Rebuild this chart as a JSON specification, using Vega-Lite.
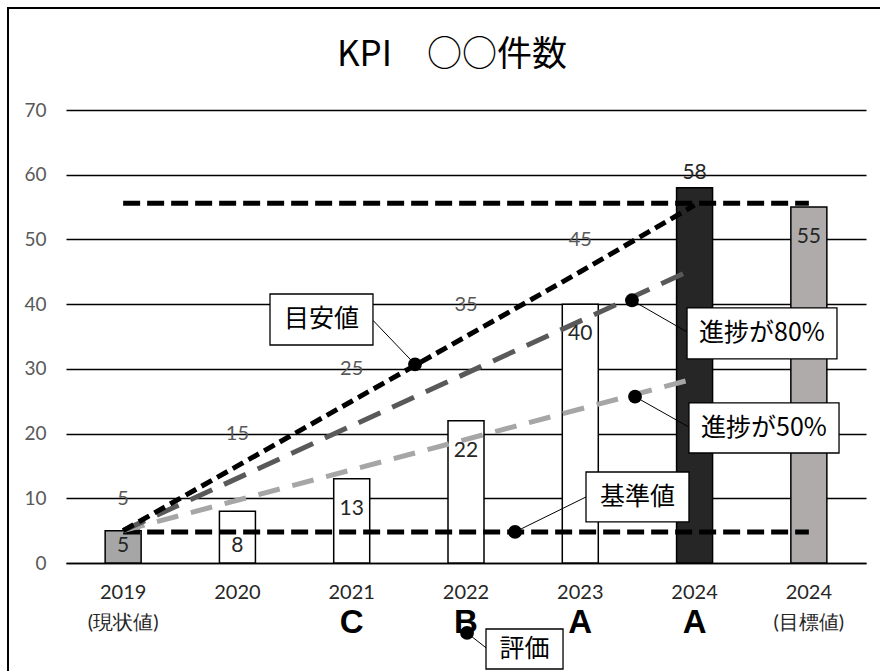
{
  "$schema": "https://vega.github.io/schema/vega-lite/v6.json",
  "width": 800,
  "height": 453,
  "autosize": "none",
  "padding": {"left": 66, "top": 110, "right": 14, "bottom": 108},
  "background": "white",
  "config": {
    "view": {"stroke": null},
    "axis": {"labelFont": "Lato", "labelFontSize": 20, "ticks": false, "title": null},
    "axisX": {"labelColor": "#262626", "labelFontSize": 20, "labelLineHeight": 30, "labelPadding": 19},
    "axisY": {"labelColor": "#595959", "labelFontSize": 19, "labelPadding": 20}
  },
  "title": {
    "text": "KPI　○○件数",
    "font": "Noto Sans CJK JP",
    "fontSize": 35,
    "fontWeight": "normal",
    "color": "black",
    "anchor": "middle",
    "frame": "group",
    "offset": 0,
    "dy": 66,
    "dx": -14
  },
  "datasets": {
    "bars": [
      {"cat": "2019|(現状値)", "value": 5},
      {"cat": "2020", "value": 8},
      {"cat": "2021", "value": 13, "eval": "C"},
      {"cat": "2022", "value": 22, "eval": "B"},
      {"cat": "2023", "value": 40, "eval": "A"},
      {"cat": "2024", "value": 58, "eval": "A"},
      {"cat": "2024|(目標値)", "value": 55}
    ],
    "guides": [
      {"series": "target", "cat": "2019|(現状値)", "value": 5},
      {"series": "target", "cat": "2020", "value": 15},
      {"series": "target", "cat": "2021", "value": 25},
      {"series": "target", "cat": "2022", "value": 35},
      {"series": "target", "cat": "2023", "value": 45},
      {"series": "target", "cat": "2024", "value": 55.3},
      {"series": "p80", "cat": "2019|(現状値)", "value": 5},
      {"series": "p80", "cat": "2024", "value": 45.5},
      {"series": "p50", "cat": "2019|(現状値)", "value": 5},
      {"series": "p50", "cat": "2024", "value": 28.5},
      {"series": "goal", "cat": "2019|(現状値)", "value": 55.6},
      {"series": "goal", "cat": "2024|(目標値)", "value": 55.6},
      {"series": "base", "cat": "2019|(現状値)", "value": 4.8},
      {"series": "base", "cat": "2024|(目標値)", "value": 4.8}
    ],
    "callouts": [
      {"label": "目安値", "x1": 1.785, "x2": 2.686, "y1": 41.57, "y2": 33.69, "tx": 2.236, "ty": 37.63, "px": 3.054, "py": 30.7, "lx": 2.686, "ly": 37.5},
      {"label": "進捗が80%", "x1": 5.434, "x2": 6.746, "y1": 39.41, "y2": 31.53, "tx": 6.09, "ty": 35.47, "px": 4.952, "py": 40.6, "lx": 5.434, "ly": 35.7},
      {"label": "進捗が50%", "x1": 5.451, "x2": 6.764, "y1": 24.73, "y2": 17.0, "tx": 6.107, "ty": 20.87, "px": 4.979, "py": 25.7, "lx": 5.451, "ly": 21.0},
      {"label": "基準値", "x1": 4.55, "x2": 5.451, "y1": 14.06, "y2": 6.34, "tx": 5.0, "ty": 10.2, "px": 3.929, "py": 4.8, "lx": 4.55, "ly": 10.2},
      {"label": "評価", "x1": 3.675, "x2": 4.349, "y1": -10.2, "y2": -16.38, "tx": 4.012, "ty": -13.29, "px": 3.509, "py": -10.8, "lx": 3.675, "ly": -13.1}
    ],
    "frame": [
      {"x1": -0.5075, "x2": 7.6, "y1": 85.77, "y2": -22}
    ]
  },
  "layer": [
    {
      "layer": [
        {
          "data": {"name": "bars"},
          "mark": {"type": "bar", "stroke": "black", "strokeWidth": 1.5},
          "encoding": {
            "x": {
              "field": "cat",
              "type": "nominal",
              "sort": null,
              "scale": {
                "domain": ["2019|(現状値)", "2020", "2021", "2022", "2023", "2024", "2024|(目標値)"],
                "paddingInner": 0.685,
                "paddingOuter": 0.3425
              },
              "axis": {
                "title": null,
                "labelAngle": 0,
                "labelExpr": "split(datum.label, '|')",
                "labelFont": "Lato",
                "labelFontSize": 20,
                "labelColor": "#262626",
                "labelLineHeight": 30,
                "labelPadding": 19,
                "ticks": false,
                "domain": true,
                "domainColor": "black",
                "domainWidth": 1.5,
                "grid": false
              }
            },
            "y": {
              "field": "value",
              "type": "quantitative",
              "scale": {"domain": [0, 70], "nice": false, "zero": true},
              "axis": {
                "title": null,
                "values": [0, 10, 20, 30, 40, 50, 60, 70],
                "labelFont": "Lato",
                "labelFontSize": 19,
                "labelColor": "#595959",
                "labelPadding": 20,
                "ticks": false,
                "domain": false,
                "grid": true,
                "gridColor": "black",
                "gridWidth": 1.4
              }
            },
            "fill": {
              "field": "cat",
              "type": "nominal",
              "scale": {
                "domain": ["2019|(現状値)", "2020", "2021", "2022", "2023", "2024", "2024|(目標値)"],
                "range": ["#a6a6a6", "#ffffff", "#ffffff", "#ffffff", "#ffffff", "#262626", "#afabab"]
              },
              "legend": null
            }
          }
        },
        {
          "data": {"name": "guides"},
          "transform": [{"filter": "datum.series === 'base'"}],
          "mark": {"type": "line", "color": "black", "strokeWidth": 5, "strokeDash": [17, 7]},
          "encoding": {
            "x": {"field": "cat", "type": "nominal", "sort": null},
            "y": {"field": "value", "type": "quantitative"}
          }
        },
        {
          "data": {"name": "guides"},
          "transform": [{"filter": "datum.series === 'goal'"}],
          "mark": {"type": "line", "color": "black", "strokeWidth": 5, "strokeDash": [17, 7]},
          "encoding": {
            "x": {"field": "cat", "type": "nominal", "sort": null},
            "y": {"field": "value", "type": "quantitative"}
          }
        },
        {
          "data": {"name": "guides"},
          "transform": [{"filter": "datum.series === 'p50'"}],
          "mark": {"type": "line", "color": "#a6a6a6", "strokeWidth": 5, "strokeDash": [22, 13]},
          "encoding": {
            "x": {"field": "cat", "type": "nominal", "sort": null},
            "y": {"field": "value", "type": "quantitative"}
          }
        },
        {
          "data": {"name": "guides"},
          "transform": [{"filter": "datum.series === 'p80'"}],
          "mark": {"type": "line", "color": "#595959", "strokeWidth": 5, "strokeDash": [24, 13]},
          "encoding": {
            "x": {"field": "cat", "type": "nominal", "sort": null},
            "y": {"field": "value", "type": "quantitative"}
          }
        },
        {
          "data": {"name": "guides"},
          "transform": [{"filter": "datum.series === 'target'"}],
          "mark": {"type": "line", "color": "black", "strokeWidth": 5, "strokeDash": [12, 6]},
          "encoding": {
            "x": {"field": "cat", "type": "nominal", "sort": null},
            "y": {"field": "value", "type": "quantitative"}
          }
        },
        {
          "data": {"name": "guides"},
          "transform": [{"filter": "datum.series === 'target' && datum.cat !== '2024'"}],
          "mark": {"type": "text", "font": "Lato", "fontSize": 20, "color": "#595959", "dy": -32, "baseline": "middle"},
          "encoding": {
            "x": {"field": "cat", "type": "nominal", "sort": null},
            "y": {"field": "value", "type": "quantitative"},
            "text": {"field": "value", "type": "quantitative"}
          }
        },
        {
          "data": {"name": "bars"},
          "transform": [{"filter": "datum.value < 10"}],
          "mark": {"type": "text", "font": "Lato", "fontSize": 21, "color": "#262626", "dy": -17, "baseline": "middle"},
          "encoding": {
            "x": {"field": "cat", "type": "nominal", "sort": null},
            "y": {"datum": 0},
            "text": {"field": "value", "type": "quantitative"}
          }
        },
        {
          "data": {"name": "bars"},
          "transform": [{"filter": "datum.value >= 10 && datum.cat !== '2024'"}],
          "mark": {"type": "text", "font": "Lato", "fontSize": 21, "color": "#262626", "dy": 30, "baseline": "middle"},
          "encoding": {
            "x": {"field": "cat", "type": "nominal", "sort": null},
            "y": {"field": "value", "type": "quantitative"},
            "text": {"field": "value", "type": "quantitative"}
          }
        },
        {
          "data": {"name": "bars"},
          "transform": [{"filter": "datum.cat === '2024'"}],
          "mark": {"type": "text", "font": "Lato", "fontSize": 21, "color": "#262626", "dy": -15, "baseline": "middle"},
          "encoding": {
            "x": {"field": "cat", "type": "nominal", "sort": null},
            "y": {"field": "value", "type": "quantitative"},
            "text": {"field": "value", "type": "quantitative"}
          }
        },
        {
          "data": {"name": "bars"},
          "transform": [{"filter": "isValid(datum.eval)"}],
          "mark": {"type": "text", "font": "Liberation Sans", "fontWeight": "bold", "fontSize": 33, "color": "black", "dy": 60, "baseline": "middle"},
          "encoding": {
            "x": {"field": "cat", "type": "nominal", "sort": null},
            "y": {"datum": 0},
            "text": {"field": "eval", "type": "nominal"}
          }
        }
      ]
    },
    {
      "layer": [
        {
          "data": {"name": "frame"},
          "mark": {"type": "rect", "fill": "white", "fillOpacity": 0, "stroke": "black", "strokeWidth": 2},
          "encoding": {
            "x": {"field": "x1", "type": "quantitative", "scale": {"domain": [0, 7], "nice": false, "zero": false}, "axis": null},
            "x2": {"field": "x2"},
            "y": {"field": "y1", "type": "quantitative"},
            "y2": {"field": "y2"}
          }
        },
        {
          "data": {"name": "callouts"},
          "mark": {"type": "rule", "color": "black", "strokeWidth": 1},
          "encoding": {
            "x": {"field": "px", "type": "quantitative", "scale": {"domain": [0, 7], "nice": false, "zero": false}, "axis": null},
            "x2": {"field": "lx"},
            "y": {"field": "py", "type": "quantitative"},
            "y2": {"field": "ly"}
          }
        },
        {
          "data": {"name": "callouts"},
          "mark": {"type": "point", "filled": true, "color": "black", "opacity": 1, "size": 190},
          "encoding": {
            "x": {"field": "px", "type": "quantitative", "scale": {"domain": [0, 7], "nice": false, "zero": false}, "axis": null},
            "y": {"field": "py", "type": "quantitative"}
          }
        },
        {
          "data": {"name": "callouts"},
          "mark": {"type": "rect", "fill": "white", "stroke": "black", "strokeWidth": 1.3},
          "encoding": {
            "x": {"field": "x1", "type": "quantitative", "scale": {"domain": [0, 7], "nice": false, "zero": false}, "axis": null},
            "x2": {"field": "x2"},
            "y": {"field": "y1", "type": "quantitative"},
            "y2": {"field": "y2"}
          }
        },
        {
          "data": {"name": "callouts"},
          "mark": {"type": "text", "font": "Noto Sans CJK JP", "fontSize": 25, "color": "black", "baseline": "middle", "align": "center"},
          "encoding": {
            "x": {"field": "tx", "type": "quantitative", "scale": {"domain": [0, 7], "nice": false, "zero": false}, "axis": null},
            "y": {"field": "ty", "type": "quantitative"},
            "text": {"field": "label", "type": "nominal"}
          }
        }
      ]
    }
  ],
  "resolve": {"scale": {"x": "independent"}}
}
